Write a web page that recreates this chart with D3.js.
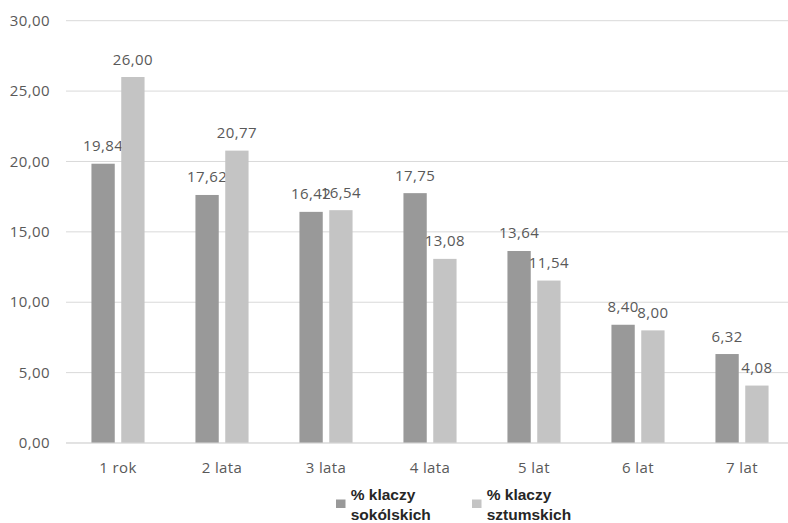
<!DOCTYPE html>
<html>
<head>
<meta charset="utf-8">
<script src="https://cdn.jsdelivr.net/npm/d3@7"></script>
<style>
  body { margin: 0; background: #fff; overflow: hidden; }
  svg { display: block; }
</style>
</head>
<body>
<svg id="chart" width="788" height="523"></svg>
<script>
// Share of mares by age group
const categories = ["1 rok", "2 lata", "3 lata", "4 lata", "5 lat", "6 lat", "7 lat"];
const sokolskie = [19.84, 17.62, 16.42, 17.75, 13.64, 8.40, 6.32];
const sztumskie = [26.00, 20.77, 16.54, 13.08, 11.54, 8.00, 4.08];
const seriesNames = [["% klaczy", "sokólskich"], ["% klaczy", "sztumskich"]];
const yTicks = [0, 5, 10, 15, 20, 25, 30];

const colors = ["#999999", "#c4c4c4"];
const fmt = v => v.toFixed(2).replace(".", ",");

const svg = d3.select("#chart");
const W = 788;
const plotLeft = 66, plotRight = 794, plotTop = 20.7, plotBottom = 443;

const x = d3.scaleBand().domain(categories).range([plotLeft, plotRight]).paddingInner(0).paddingOuter(0);
const y = d3.scaleLinear().domain([0, 30]).range([plotBottom, plotTop]);

const font = "'Open Sans', 'Liberation Sans', sans-serif";
const labelStyle = sel => sel
  .attr("font-family", font).attr("font-size", 15)
  .attr("letter-spacing", 0.4).attr("fill", "#595959");

// gridlines
svg.append("g").selectAll("line").data(yTicks).join("line")
  .attr("x1", plotLeft).attr("x2", W)
  .attr("y1", d => y(d)).attr("y2", d => y(d))
  .attr("stroke", "#d9d9d9").attr("stroke-width", 1);

// y tick labels
svg.append("g").selectAll("text").data(yTicks).join("text")
  .attr("x", 50).attr("y", d => y(d)).attr("dy", "0.35em")
  .attr("text-anchor", "end")
  .call(labelStyle)
  .text(fmt);

// bars with value labels
const barW = 23.3, gap = 6.5;
const sub = d3.scaleOrdinal().domain([0, 1]).range([-(barW + gap) / 2, (barW + gap) / 2]);
const series = [sokolskie, sztumskie];

series.forEach((vals, si) => {
  const g = svg.append("g");
  g.selectAll("rect").data(vals).join("rect")
    .attr("x", (d, i) => x(categories[i]) + x.bandwidth() / 2 + sub(si) - barW / 2)
    .attr("width", barW)
    .attr("y", d => y(d))
    .attr("height", d => y(0) - y(d))
    .attr("fill", colors[si]);
  g.selectAll("text").data(vals).join("text")
    .attr("x", (d, i) => x(categories[i]) + x.bandwidth() / 2 + sub(si))
    .attr("y", d => y(d) - 12.5)
    .attr("text-anchor", "middle")
    .call(labelStyle)
    .text(fmt);
});

// baseline
svg.append("line")
  .attr("x1", plotLeft).attr("x2", W)
  .attr("y1", y(0)).attr("y2", y(0))
  .attr("stroke", "#d9d9d9").attr("stroke-width", 1);

// category labels
svg.append("g").selectAll("text").data(categories).join("text")
  .attr("x", d => x(d) + x.bandwidth() / 2).attr("y", 468).attr("dy", "0.35em")
  .attr("text-anchor", "middle")
  .call(labelStyle)
  .text(d => d);

// legend
const legendX = [336, 472];
seriesNames.forEach((lines, i) => {
  const g = svg.append("g");
  g.append("rect").attr("x", legendX[i]).attr("y", 499.5).attr("width", 9.5).attr("height", 8.5).attr("fill", colors[i]);
  lines.forEach((t, j) => {
    g.append("text")
      .attr("x", legendX[i] + 14.7).attr("y", 500 + j * 20)
      .attr("font-family", "'Liberation Sans', Arial, sans-serif")
      .attr("font-weight", "bold").attr("font-size", 15.5).attr("fill", "#262626")
      .text(t);
  });
});
</script>
</body>
</html>
